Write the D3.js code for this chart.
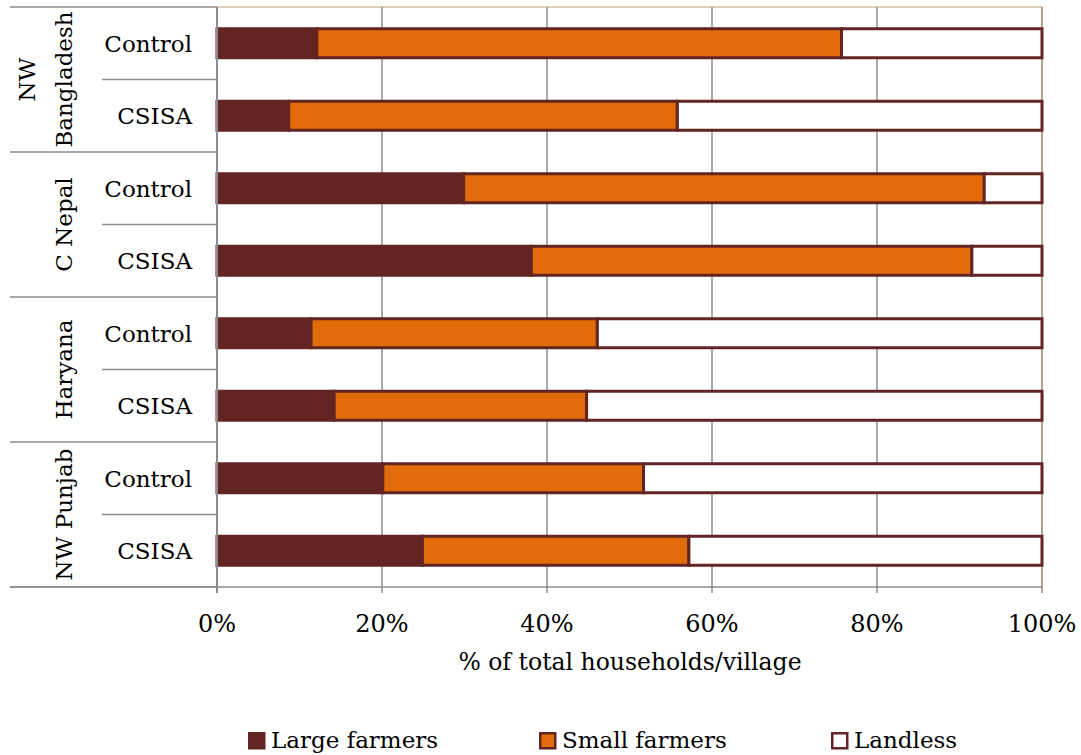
<!DOCTYPE html>
<html>
<head>
<meta charset="utf-8">
<script src="https://cdn.jsdelivr.net/npm/d3@7/dist/d3.min.js"></script>
<style>
  html, body { margin: 0; padding: 0; background: #fff; }
  svg { display: block; }
  text { font-family: "DejaVu Serif", "Liberation Serif", serif; fill: #000; }
</style>
</head>
<body>
<svg id="chart" width="1081" height="755"></svg>
<script>
// ---- data ----
const groups = [["NW", "Bangladesh"], ["C Nepal"], ["Haryana"], ["NW Punjab"]];
const subcats = ["Control", "CSISA"];
const seriesNames = ["Large farmers", "Small farmers", "Landless"];
const largeFarmers = [12.1, 8.7, 29.9, 38.1, 11.4, 14.2, 20.1, 24.9];
const smallFarmers = [63.6, 47.1, 63.1, 53.4, 34.7, 30.6, 31.6, 32.3];
const landless     = [24.3, 44.2, 7.0, 8.5, 53.9, 55.2, 48.3, 42.8];
const tickValues = [0, 20, 40, 60, 80, 100];
const axisTitle = "% of total households/village";

// ---- build rows ----
const rows = [];
groups.forEach((g, gi) => subcats.forEach((s, si) => {
  const i = gi * subcats.length + si;
  rows.push({ id: i, group: gi, cat: s,
    "Large farmers": largeFarmers[i],
    "Small farmers": smallFarmers[i],
    "Landless": landless[i] });
}));

const colors = { "Large farmers": "#632523", "Small farmers": "#e36c0a", "Landless": "#ffffff" };
const strokeCol = "#632523";
const gridCol = "#8c8c8c";

const svg = d3.select("#chart");
const pLeft = 217, pRight = 1042, pTop = 7, pBottom = 587;

const x = d3.scaleLinear().domain([0, 100]).range([pLeft, pRight]);
const y = d3.scaleBand().domain(rows.map(r => r.id)).range([pTop, pBottom])
  .paddingInner(0.6).paddingOuter(0.3);
const step = y.step();

// gridlines
svg.append("g").selectAll("line").data(tickValues.filter(t => t > 0 && t < 100)).join("line")
  .attr("x1", d => x(d)).attr("x2", d => x(d))
  .attr("y1", pTop).attr("y2", pBottom)
  .attr("stroke", gridCol).attr("stroke-width", 1.5);

// plot border (top & right)
svg.append("line").attr("x1", pLeft).attr("x2", pRight).attr("y1", pTop).attr("y2", pTop)
  .attr("stroke", "#c49a74").attr("stroke-width", 1);
svg.append("line").attr("x1", pRight).attr("x2", pRight).attr("y1", pTop).attr("y2", pBottom + 6)
  .attr("stroke", "#9c8070").attr("stroke-width", 1.5);

// bars
const stack = d3.stack().keys(seriesNames)(rows);
svg.append("g").selectAll("g").data(stack).join("g")
  .attr("fill", d => colors[d.key])
  .selectAll("rect").data(d => d).join("rect")
  .attr("x", d => x(d[0]))
  .attr("width", d => x(d[1]) - x(d[0]))
  .attr("y", d => y(d.data.id))
  .attr("height", y.bandwidth())
  .attr("stroke", strokeCol).attr("stroke-width", 3);

// left table lines
const tableLeft = 10, subLeft = 102;
const gLines = svg.append("g").attr("stroke", gridCol).attr("stroke-width", 1.5);
const groupBounds = d3.range(groups.length + 1).map(i => pTop + i * subcats.length * step);
gLines.selectAll(".gb").data(groupBounds).join("line")
  .attr("x1", tableLeft).attr("x2", pLeft)
  .attr("y1", d => d).attr("y2", d => d);
const subBounds = d3.range(groups.length).map(i => pTop + (i * subcats.length + 1) * step);
gLines.selectAll(".sb").data(subBounds).join("line")
  .attr("x1", subLeft).attr("x2", pLeft)
  .attr("y1", d => d).attr("y2", d => d);
gLines.append("line").attr("x1", pLeft).attr("x2", pLeft).attr("y1", pTop).attr("y2", pBottom + 6)
  .attr("stroke-width", 2);
gLines.append("line").attr("x1", tableLeft).attr("x2", pRight).attr("y1", pBottom).attr("y2", pBottom);
gLines.selectAll(".xt").data(tickValues.filter(t => t < 100)).join("line")
  .attr("x1", d => x(d)).attr("x2", d => x(d)).attr("y1", pBottom).attr("y2", pBottom + 6);

// category labels
svg.append("g").selectAll("text").data(rows).join("text")
  .attr("x", 192).attr("y", d => y(d.id) + y.bandwidth() / 2)
  .attr("dy", "0.36em").attr("text-anchor", "end")
  .style("font-size", "23px").text(d => d.cat);

// group labels (rotated)
const gl = svg.append("g").selectAll("g").data(groups).join("g")
  .attr("transform", (d, i) => {
    const cy = (groupBounds[i] + groupBounds[i + 1]) / 2;
    return `translate(0,${cy}) rotate(-90)`;
  });
gl.each(function(lines) {
  const sel = d3.select(this);
  const baselines = lines.length === 2 ? [35, 72] : [72];
  lines.forEach((t, k) => {
    sel.append("text").attr("x", 0).attr("y", baselines[k])
      .attr("text-anchor", "middle").style("font-size", "23px").text(t);
  });
});

// x tick labels
svg.append("g").selectAll("text").data(tickValues).join("text")
  .attr("x", d => x(d)).attr("y", 632).attr("text-anchor", "middle")
  .style("font-size", "24px").text(d => d + "%");

// axis title
svg.append("text").attr("x", 630).attr("y", 670)
  .attr("text-anchor", "middle").style("font-size", "23.5px").text(axisTitle);

// legend
const legendX = [248, 539, 831];
const leg = svg.append("g").selectAll("g").data(seriesNames).join("g")
  .attr("transform", (d, i) => `translate(${legendX[i]},732)`);
leg.append("rect").attr("x", 1.25).attr("y", 1.25).attr("width", 15).attr("height", 15)
  .attr("fill", d => colors[d]).attr("stroke", strokeCol).attr("stroke-width", 2.5);
leg.append("text").attr("x", 23).attr("y", 16).style("font-size", "23px").text(d => d);
</script>
</body>
</html>
